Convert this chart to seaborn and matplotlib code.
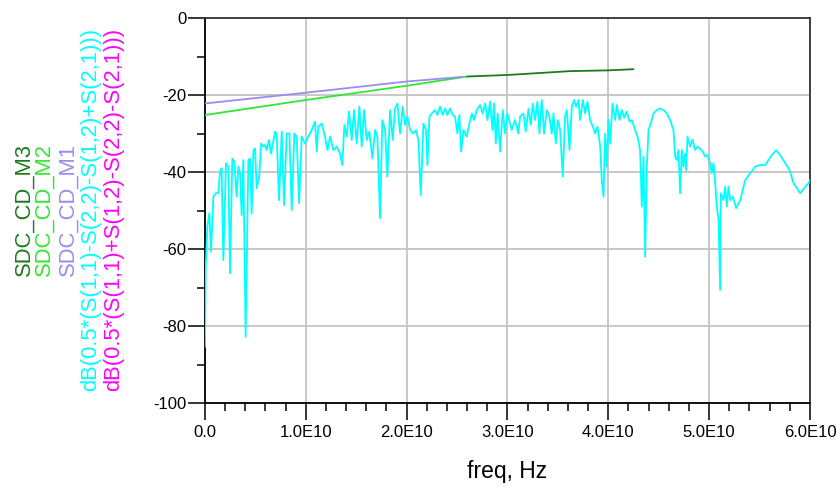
import numpy as np
import pandas as pd
import matplotlib
matplotlib.use("Agg")
import matplotlib.pyplot as plt
from matplotlib.ticker import MultipleLocator, FixedLocator, FixedFormatter
import seaborn as sns

# ---------------- data ----------------
# differential-to-common conversion, cyan trace: frequency in GHz, level in dB
cyan_freq_ghz = [
    0.00, 0.07, 0.23, 0.43, 0.60, 0.83, 1.09, 1.32, 1.49, 1.65, 1.82, 2.08, 2.31, 2.48,
    2.71, 2.91, 3.14, 3.31, 3.47, 3.64, 3.80, 4.03, 4.30, 4.46, 4.63, 4.80, 4.96, 5.13,
    5.39, 5.56, 5.79, 5.95, 6.12, 6.35, 6.55, 6.71, 6.94, 7.11, 7.34, 7.61, 7.84, 8.10,
    8.37, 8.60, 8.86, 9.09, 9.33, 9.59, 9.92, 10.25, 10.58, 10.91, 11.08, 11.24, 11.57,
    11.90, 12.14, 12.40, 12.73, 13.06, 13.39, 13.62, 13.82, 14.05, 14.29, 14.55, 14.78,
    15.05, 15.31, 15.54, 15.77, 16.04, 16.30, 16.60, 16.87, 17.10, 17.36, 17.59, 17.86,
    18.09, 18.35, 18.62, 18.85, 19.08, 19.35, 19.61, 19.84, 20.07, 20.34, 20.67, 20.93,
    21.16, 21.40, 21.66, 21.92, 22.06, 22.26, 22.49, 22.82, 23.05, 23.31, 23.58, 23.81,
    24.04, 24.31, 24.57, 24.80, 25.03, 25.23, 25.40, 25.63, 25.96, 26.22, 26.46, 26.69,
    26.95, 27.28, 27.55, 27.78, 28.01, 28.27, 28.51, 28.67, 28.84, 29.03, 29.27, 29.53,
    29.76, 29.99, 30.42, 30.75, 31.08, 31.25, 31.58, 31.81, 32.08, 32.31, 32.51, 32.74,
    32.97, 33.17, 33.40, 33.63, 33.90, 34.13, 34.39, 34.56, 34.79, 34.99, 35.22, 35.48,
    35.71, 35.88, 36.15, 36.38, 36.61, 36.81, 37.04, 37.20, 37.47, 37.70, 37.93, 38.19,
    38.46, 38.69, 38.92, 39.19, 39.35, 39.52, 39.68, 39.85, 40.01, 40.18, 40.41, 40.67,
    40.84, 41.11, 41.34, 41.57, 41.83, 42.10, 42.33, 42.66, 42.89, 43.15, 43.32, 43.49,
    43.65, 43.82, 43.98, 44.21, 44.48, 44.81, 45.14, 45.47, 45.80, 46.13, 46.46, 46.63,
    46.79, 46.96, 47.12, 47.29, 47.45, 47.62, 47.72, 47.85, 48.12, 48.35, 48.61, 48.84,
    49.11, 49.37, 49.60, 49.83, 50.10, 50.26, 50.43, 50.60, 50.76, 50.93, 51.09, 51.16,
    51.42, 51.59, 51.75, 51.92, 52.08, 52.35, 52.68, 53.08, 53.57, 54.07, 54.56, 55.06,
    55.56, 55.89, 56.22, 56.65, 57.04, 57.54, 57.97, 58.37, 58.70, 59.03, 59.42, 59.85,
    60.00,
]
cyan_db = [
    -85.4, -64.6, -54.2, -50.7, -60.7, -46.4, -45.5, -45.5, -39.9, -39.0, -62.9, -37.7, -38.6, -66.3,
    -36.5, -37.3, -46.4, -38.6, -40.3, -51.2, -36.9, -82.8, -36.9, -36.5, -50.7, -34.3, -33.9, -44.2,
    -40.8, -32.6, -33.4, -33.0, -34.3, -31.7, -35.2, -33.0, -29.5, -30.0, -47.3, -29.5, -48.6, -30.0,
    -30.0, -49.9, -30.0, -30.8, -48.1, -30.8, -32.6, -30.8, -29.1, -26.9, -34.7, -28.2, -27.4,
    -30.8, -34.3, -30.8, -34.3, -33.4, -35.2, -38.2, -27.8, -30.8, -24.3, -31.7, -23.9,
    -32.6, -23.0, -33.4, -23.9, -31.7, -29.5, -36.5, -29.1, -30.8, -52.0, -26.5, -29.1,
    -41.2, -23.9, -31.7, -23.5, -22.2, -30.0, -23.0, -27.8, -25.6, -29.1, -30.0, -29.1,
    -31.7, -46.0, -27.4, -29.1, -38.2, -25.6, -24.8, -23.9, -25.2, -23.0, -25.2, -23.5,
    -25.2, -23.5, -25.2, -25.6, -30.0, -25.2, -34.7, -29.1, -30.8, -27.4, -24.8, -26.5,
    -23.9, -22.6, -24.8, -22.2, -26.5, -21.7, -29.1, -22.2, -32.6, -24.8, -34.7, -23.9,
    -30.0, -24.8, -29.1, -26.5, -30.0, -25.6, -24.8, -29.5, -23.5, -27.8, -22.2, -26.5,
    -21.7, -30.0, -21.3, -30.0, -23.9, -25.2, -30.0, -24.8, -32.6, -26.5, -29.1, -41.2,
    -25.6, -23.9, -34.3, -23.0, -21.3, -23.0, -21.3, -26.5, -21.3, -24.8, -21.7, -26.5,
    -28.2, -30.0, -28.2, -33.4, -42.1, -46.4, -30.0, -38.6, -26.5, -32.6, -22.2, -26.5,
    -22.6, -26.5, -23.9, -25.9, -24.3, -26.9, -26.5, -29.1, -30.8, -34.3, -49.0, -36.0,
    -62.0, -38.6, -29.1, -27.4, -24.8, -23.9, -23.5, -23.9, -24.8, -26.5, -29.1, -36.0,
    -36.9, -34.3, -45.5, -34.3, -38.6, -35.2, -39.5, -30.8, -33.4, -31.6, -34.3, -33.4,
    -33.9, -34.7, -36.0, -35.6, -37.7, -40.3, -37.7, -42.9, -49.0, -52.5, -70.6, -45.5,
    -47.3, -43.8, -49.0, -43.8, -47.3, -46.4, -49.4, -47.3, -42.1, -40.3, -38.6, -38.2,
    -38.2, -36.9, -35.6, -34.3, -35.6, -37.7, -39.5, -42.9, -44.2, -45.5, -44.2, -42.9,
    -42.1,
]

m1_freq_ghz = [0.0, 10.0, 20.0, 25.5]
m1_db = [-22.2, -19.4, -16.5, -15.3]

m2_freq_ghz = [0.0, 10.0, 20.0, 26.0]
m2_db = [-25.2, -21.3, -17.6, -15.2]

m3_freq_ghz = [26.0, 30.0, 36.2, 40.0, 42.5]
m3_db = [-15.2, -14.8, -13.8, -13.6, -13.3]

x_ticks_hz = [0.0, 1e10, 2e10, 3e10, 4e10, 5e10, 6e10]
x_tick_labels = ["0.0", "1.0E10", "2.0E10", "3.0E10", "4.0E10", "5.0E10", "6.0E10"]
y_ticks = [0, -20, -40, -60, -80, -100]
y_tick_labels = ["0", "-20", "-40", "-60", "-80", "-100"]

legend_labels = [
    "SDC_CD_M3",
    "SDC_CD_M2",
    "SDC_CD_M1",
    "dB(0.5*(S(1,1)-S(2,2)-S(1,2)+S(2,1)))",
    "dB(0.5*(S(1,1)+S(1,2)-S(2,2)-S(2,1)))",
]
legend_colors = ["#1E7A1E", "#33E633", "#9A8CF0", "#00FFFF", "#FF00FF"]

# ---------------- plotting ----------------
sns.set_theme(style="white")
plt.rcParams["font.family"] = ["Liberation Sans", "DejaVu Sans"]
plt.rcParams["axes.unicode_minus"] = False

GHZ = 1e9
df_cyan = pd.DataFrame({"freq": np.array(cyan_freq_ghz) * GHZ, "db": cyan_db})
df_m1 = pd.DataFrame({"freq": np.array(m1_freq_ghz) * GHZ, "db": m1_db})
df_m2 = pd.DataFrame({"freq": np.array(m2_freq_ghz) * GHZ, "db": m2_db})
df_m3 = pd.DataFrame({"freq": np.array(m3_freq_ghz) * GHZ, "db": m3_db})

fig = plt.figure(figsize=(8.37, 4.88), dpi=100)
ax = fig.add_axes([205 / 837, 85 / 488, 605 / 837, 385 / 488])

sns.lineplot(data=df_cyan, x="freq", y="db", ax=ax, color=legend_colors[3],
             linewidth=1.3, estimator=None, sort=False, zorder=3)
sns.lineplot(data=df_m2, x="freq", y="db", ax=ax, color=legend_colors[1],
             linewidth=1.3, estimator=None, sort=False, zorder=4)
sns.lineplot(data=df_m1, x="freq", y="db", ax=ax, color=legend_colors[2],
             linewidth=1.3, estimator=None, sort=False, zorder=4)
sns.lineplot(data=df_m3, x="freq", y="db", ax=ax, color=legend_colors[0],
             linewidth=1.3, estimator=None, sort=False, zorder=4)

ax.set_xlim(0, 6e10)
ax.set_ylim(-100, 0)

ax.xaxis.set_major_locator(FixedLocator(x_ticks_hz))
ax.xaxis.set_major_formatter(FixedFormatter(x_tick_labels))
ax.yaxis.set_major_locator(FixedLocator(y_ticks))
ax.yaxis.set_major_formatter(FixedFormatter(y_tick_labels))
ax.xaxis.set_minor_locator(MultipleLocator(2e9))
ax.yaxis.set_minor_locator(MultipleLocator(10))

ax.grid(True, which="major", color="#C4C4C4", linewidth=1.3, zorder=0)
ax.set_axisbelow(True)

ax.tick_params(axis="both", which="major", direction="out", length=12, width=1.1,
               color="black", labelsize=12, labelcolor="black")
ax.tick_params(axis="both", which="minor", direction="out", length=5.5, width=1.1,
               color="black")
ax.tick_params(axis="y", which="both", left=True, right=False, pad=1.5)
ax.tick_params(axis="x", which="both", bottom=True, top=False, pad=4)

for side in ["left", "bottom"]:
    ax.spines[side].set_color("black")
    ax.spines[side].set_linewidth(1.3)
for side in ["top", "right"]:
    ax.spines[side].set_visible(True)
    ax.spines[side].set_color("#333333")
    ax.spines[side].set_linewidth(1.3)

ax.set_ylabel("")
ax.set_xlabel("freq, Hz", fontsize=16.5, color="black")
ax.xaxis.set_label_coords(0.499, -0.148)

# rotated trace labels to the left of the plot
label_x_px = [24, 44, 68, 91, 114]
for text, color, xp in zip(legend_labels, legend_colors, label_x_px):
    fig.text(xp / 837, 1 - 209 / 488, text, rotation=90, color=color,
             fontsize=15.8, ha="center", va="center")

fig.savefig("out.png", dpi=100)
